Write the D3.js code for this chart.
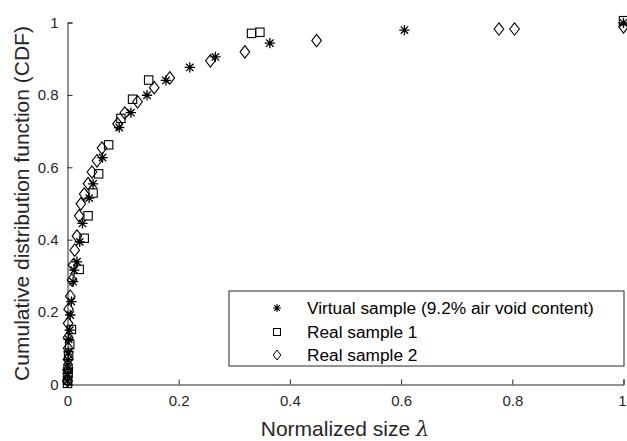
<!DOCTYPE html>
<html><head><meta charset="utf-8">
<script src="https://cdn.jsdelivr.net/npm/d3@7"></script>
<style>body{margin:0;background:#fff}svg{display:block;font-family:"Liberation Sans",Arial,sans-serif}</style>
</head><body><svg id="c" width="627" height="441"></svg>
<script>
const xTicks = [0, 0.2, 0.4, 0.6, 0.8, 1];
const yTicks = [0, 0.2, 0.4, 0.6, 0.8, 1];
const seriesNames = ["Virtual sample (9.2% air void content)", "Real sample 1", "Real sample 2"];
const virtualX = [0.000,0.000,0.001,0.001,0.002,0.002,0.004,0.005,0.007,0.010,0.012,0.017,0.022,0.027,0.039,0.046,0.063,0.093,0.114,0.143,0.177,0.220,0.266,0.364,0.606,1.0];
const virtualY = [0.010,0.030,0.045,0.068,0.090,0.125,0.150,0.192,0.229,0.284,0.316,0.339,0.394,0.445,0.515,0.554,0.627,0.710,0.751,0.799,0.840,0.876,0.905,0.943,0.979,0.999];
const real1X = [0.000,0.000,0.001,0.001,0.002,0.004,0.007,0.021,0.030,0.037,0.046,0.056,0.074,0.096,0.117,0.146,0.331,0.346,1.0];
const real1Y = [0.003,0.012,0.030,0.045,0.080,0.110,0.152,0.318,0.404,0.466,0.529,0.582,0.662,0.735,0.788,0.841,0.970,0.973,1.005];
const real2X = [0.000,0.000,0.001,0.001,0.001,0.001,0.002,0.005,0.008,0.010,0.013,0.017,0.021,0.024,0.030,0.037,0.044,0.053,0.062,0.090,0.103,0.126,0.156,0.184,0.257,0.319,0.448,0.776,0.804,1.0];
const real2Y = [0.010,0.040,0.070,0.100,0.130,0.169,0.208,0.244,0.289,0.330,0.371,0.410,0.466,0.499,0.526,0.555,0.587,0.618,0.653,0.720,0.750,0.781,0.820,0.847,0.894,0.919,0.950,0.982,0.982,0.988];

const svg = d3.select("#c");
const L = 67.5, R = 623.5, T = 22.5, B = 384.5;
const x = d3.scaleLinear().domain([0,1]).range([L,R]);
const y = d3.scaleLinear().domain([0,1]).range([B,T]);
const axc = "#262626";

const xa = svg.append("g").attr("transform",`translate(0,${B})`)
  .call(d3.axisBottom(x).tickValues(xTicks).tickFormat(d=>d3.format("")(d)).tickSize(-5).tickPadding(11));
const ya = svg.append("g").attr("transform",`translate(${L},0)`)
  .call(d3.axisLeft(y).tickValues(yTicks).tickFormat(d=>d3.format("")(d)).tickSize(-5).tickPadding(9));
[xa,ya].forEach(a=>{
  a.selectAll("path").attr("stroke",axc).attr("stroke-width",1);
  a.selectAll("line").attr("stroke",axc);
  a.selectAll("text").attr("fill",axc).style("font-size","15px").style("font-family","Liberation Sans, Arial, sans-serif");
});
xa.selectAll(".tick").filter(d=>d===1).select("text").attr("dx","-1.5");

svg.append("text").attr("x",345).attr("y",436).attr("text-anchor","middle")
  .attr("fill",axc).style("font-size","21px")
  .html('Normalized size <tspan font-family="DejaVu Serif" font-style="italic">λ</tspan>');
svg.append("text").attr("transform",`translate(29,${(T+B)/2}) rotate(-90)`).attr("text-anchor","middle")
  .attr("fill",axc).style("font-size","21px").text("Cumulative distribution function (CDF)");

function star(g){ const r=5.2, d=3.7;
  g.append("path").attr("d",`M${-r},0H${r}M0,${-r}V${r}M${-d},${-d}L${d},${d}M${-d},${d}L${d},${-d}`)
   .attr("stroke","#000").attr("stroke-width",1.3).attr("fill","none"); }
function square(g){ g.append("rect").attr("x",-4.2).attr("y",-4.2).attr("width",8.4).attr("height",8.4)
   .attr("stroke","#000").attr("stroke-width",1.1).attr("fill","none"); }
function diamond(g){ g.append("path").attr("d","M0,-6.2L4.8,0L0,6.2L-4.8,0Z")
   .attr("stroke","#000").attr("stroke-width",1.1).attr("fill","none"); }

const series = [
  {xs: virtualX, ys: virtualY, m: star},
  {xs: real1X, ys: real1Y, m: square},
  {xs: real2X, ys: real2Y, m: diamond}
];
series.forEach(s=>{
  const pts = s.xs.map((v,i)=>[v,s.ys[i]]);
  svg.append("g").selectAll("g").data(pts).join("g")
    .attr("transform",d=>`translate(${x(d[0])},${y(d[1])})`).each(function(){ s.m(d3.select(this)); });
});

// legend
const lg = svg.append("g");
lg.append("rect").attr("x",229).attr("y",291).attr("width",395).attr("height",75)
  .attr("fill","#fff").attr("stroke",axc).attr("stroke-width",1);
const rows=[308,332,355];
[star,square,diamond].forEach((m,i)=>{
  const g = lg.append("g").attr("transform",`translate(277,${rows[i]})`);
  if(i===0){ g.append("path").attr("d","M-4,0H4M0,-4V4M-2.9,-2.9L2.9,2.9M-2.9,2.9L2.9,-2.9").attr("stroke","#000").attr("stroke-width",1.1); }
  else if(i===1){ g.append("rect").attr("x",-3.5).attr("y",-3.5).attr("width",7).attr("height",7).attr("stroke","#000").attr("fill","none"); }
  else { g.append("path").attr("d","M0,-5L3.8,0L0,5L-3.8,0Z").attr("stroke","#000").attr("fill","none"); }
  lg.append("text").attr("x",307).attr("y",rows[i]).attr("dy","0.35em").attr("fill","#000")
    .style("font-size","17.3px").text(seriesNames[i]);
});
</script></body></html>
